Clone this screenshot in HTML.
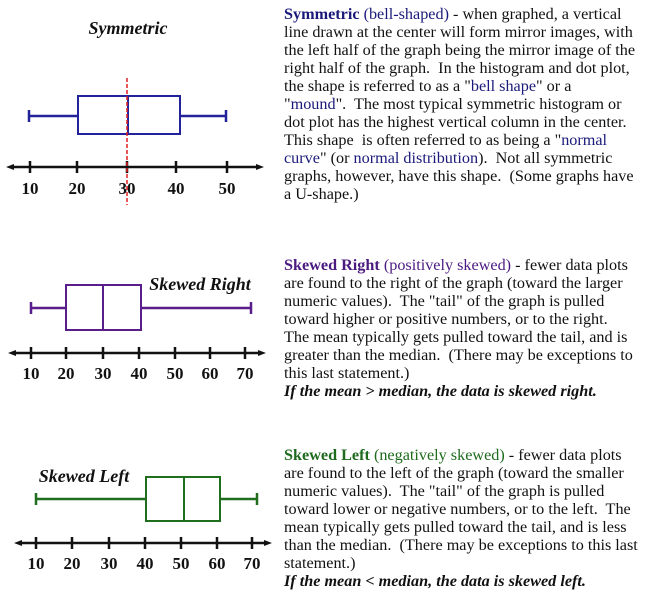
<!DOCTYPE html>
<html><head><meta charset="utf-8"><style>
body{margin:0;width:653px;height:597px;background:#fff;position:relative;overflow:hidden}
svg{position:absolute;left:0;top:0}
.t{position:absolute;left:284px;font-family:"Liberation Serif",serif;font-size:16.2px;line-height:18px;color:#111;white-space:nowrap}
.b{color:#1a1a7a}.p{color:#4b1a80}.g{color:#1e6b1e}
</style></head><body>
<svg width="653" height="597" font-family="Liberation Serif,serif">
<g font-weight="bold" font-size="17" text-anchor="middle" fill="#111">
<text x="128" y="34" font-style="italic" font-size="18">Symmetric</text>
<text x="200" y="290" font-style="italic" font-size="18">Skewed Right</text>
<text x="84" y="482" font-style="italic" font-size="18">Skewed Left</text>
<text x="30" y="194">10</text><text x="77" y="194">20</text><text x="127" y="194">30</text><text x="176" y="194">40</text><text x="227" y="194">50</text>
<text x="31" y="379">10</text><text x="66" y="379">20</text><text x="103" y="379">30</text><text x="139" y="379">40</text><text x="175" y="379">50</text><text x="210" y="379">60</text><text x="245" y="379">70</text>
<text x="36" y="569">10</text><text x="72" y="569">20</text><text x="109" y="569">30</text><text x="145" y="569">40</text><text x="181" y="569">50</text><text x="217" y="569">60</text><text x="252" y="569">70</text>
</g>
<g stroke="#111" stroke-width="2.5" fill="#111">
<line x1="10" y1="167" x2="260" y2="167"/><polygon points="6,167 14,164 14,170" stroke="none"/><polygon points="264,167 256,164 256,170" stroke="none"/>
<path d="M30 161v12M77 161v12M127 161v12M176 161v12M227 161v12"/>
<line x1="12" y1="353" x2="262" y2="353"/><polygon points="8,353 16,350 16,356" stroke="none"/><polygon points="266,353 258,350 258,356" stroke="none"/>
<path d="M31 347v12M66 347v12M103 347v12M139 347v12M175 347v12M210 347v12M245 347v12"/>
<line x1="18" y1="543" x2="268" y2="543"/><polygon points="14,543 22,540 22,546" stroke="none"/><polygon points="272,543 264,540 264,546" stroke="none"/>
<path d="M36 537v12M72 537v12M109 537v12M145 537v12M181 537v12M217 537v12M252 537v12"/>
</g>
<g stroke="#22229a" stroke-width="2" fill="none">
<rect x="78" y="96" width="102" height="38"/><line x1="128" y1="96" x2="128" y2="134"/>
<path d="M29 116h48M181 116h45M29 110v12M226 110v12" stroke-width="2.5"/>
</g>
<line x1="127" y1="78" x2="127" y2="205" stroke="#e02020" stroke-width="1.5" stroke-dasharray="4,2"/>
<g stroke="#5a1e8c" stroke-width="2" fill="none">
<rect x="66" y="285" width="75" height="45"/><line x1="103" y1="285" x2="103" y2="330"/>
<path d="M31 308h34M142 308h109M31 302v12M251 302v12" stroke-width="2.5"/>
</g>
<g stroke="#1e6e1e" stroke-width="2" fill="none">
<rect x="146" y="477" width="74" height="44"/><line x1="184" y1="477" x2="184" y2="521"/>
<path d="M36 499h109M221 499h36M36 493v12M257 493v12" stroke-width="2.5"/>
</g>
</svg>
<div class="t" style="top:5px"><b class="b">Symmetric</b> <span class="b">(bell-shaped)</span> - when graphed, a vertical<br>line drawn at the center will form mirror images, with<br>the left half of the graph being the mirror image of the<br>right half of the graph.&nbsp; In the histogram and dot plot,<br>the shape is referred to as a "<span class="b">bell shape</span>" or a<br>"<span class="b">mound</span>".&nbsp; The most typical symmetric histogram or<br>dot plot has the highest vertical column in the center.<br>This shape&nbsp; is often referred to as being a "<span class="b">normal</span><br><span class="b">curve</span>" (or <span class="b">normal distribution</span>).&nbsp; Not all symmetric<br>graphs, however, have this shape.&nbsp; (Some graphs have<br>a U-shape.)</div>
<div class="t" style="top:256px"><b class="p">Skewed Right</b> <span class="p">(positively skewed)</span> - fewer data plots<br>are found to the right of the graph (toward the larger<br>numeric values).&nbsp; The "tail" of the graph is pulled<br>toward higher or positive numbers, or to the right.<br>The mean typically gets pulled toward the tail, and is<br>greater than the median.&nbsp; (There may be exceptions to<br>this last statement.)<br><b><i>If the mean &gt; median, the data is skewed right.</i></b></div>
<div class="t" style="top:446px"><b class="g">Skewed Left</b> <span class="g">(negatively skewed)</span> - fewer data plots<br>are found to the left of the graph (toward the smaller<br>numeric values).&nbsp; The "tail" of the graph is pulled<br>toward lower or negative numbers, or to the left.&nbsp; The<br>mean typically gets pulled toward the tail, and is less<br>than the median.&nbsp; (There may be exceptions to this last<br>statement.)<br><b><i>If the mean &lt; median, the data is skewed left.</i></b></div>
</body></html>
